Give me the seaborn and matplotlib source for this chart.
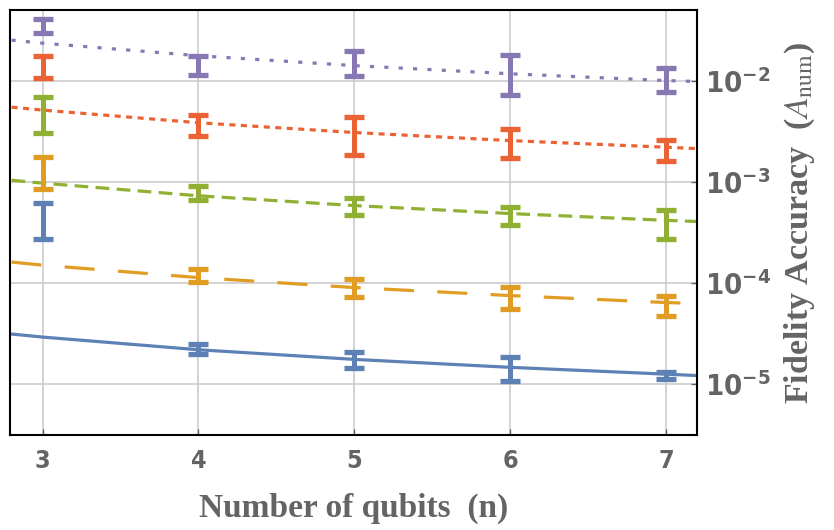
import numpy as np
import pandas as pd
import matplotlib
matplotlib.use("Agg")
import matplotlib.pyplot as plt
from matplotlib.ticker import FixedLocator, FuncFormatter, NullLocator
import seaborn as sns

# qubit counts with measured error bars
qubits = [3, 4, 5, 6, 7]

# error bar extents (lower, upper)
blue_lo = [2.70e-4, 1.96e-5, 1.43e-5, 1.08e-5, 1.13e-5]
blue_hi = [6.13e-4, 2.46e-5, 2.05e-5, 1.83e-5, 1.30e-5]
orange_lo = [8.43e-4, 1.011e-4, 7.19e-5, 5.46e-5, 4.67e-5]
orange_hi = [1.78e-3, 1.36e-4, 1.082e-4, 9.22e-5, 7.51e-5]
green_lo = [3.09e-3, 6.57e-4, 4.67e-4, 3.72e-4, 2.70e-4]
green_hi = [7.01e-3, 9.22e-4, 7.01e-4, 5.71e-4, 5.33e-4]
red_lo = [1.08e-2, 2.83e-3, 1.87e-3, 1.71e-3, 1.63e-3]
red_hi = [1.78e-2, 4.65e-3, 4.45e-3, 3.38e-3, 2.63e-3]
purple_lo = [3.02e-2, 1.134e-2, 1.109e-2, 7.19e-3, 7.87e-3]
purple_hi = [4.16e-2, 1.78e-2, 2.00e-2, 1.828e-2, 1.358e-2]

# fitted curves, read at a few n values
fit_n = [2.8, 3, 4, 5, 6, 7, 7.2]
blue_fit = [3.12e-5, 2.91e-5, 2.18e-5, 1.75e-5, 1.46e-5, 1.25e-5, 1.21e-5]
orange_fit = [1.61e-4, 1.50e-4, 1.13e-4, 9.0e-5, 7.5e-5, 6.4e-5, 6.26e-5]
green_fit = [1.04e-3, 9.74e-4, 7.30e-4, 5.84e-4, 4.87e-4, 4.17e-4, 4.06e-4]
red_fit = [5.51e-3, 5.15e-3, 3.86e-3, 3.09e-3, 2.57e-3, 2.21e-3, 2.14e-3]
purple_fit = [2.54e-2, 2.37e-2, 1.78e-2, 1.42e-2, 1.18e-2, 1.01e-2, 0.99e-2]

y_ticks = [1e-5, 1e-4, 1e-3, 1e-2]

sns.set_theme(style="white")
plt.rcParams["mathtext.fontset"] = "custom"
plt.rcParams["mathtext.rm"] = "DejaVu Sans:weight=bold:stretch=condensed"
plt.rcParams["mathtext.bf"] = "DejaVu Sans:weight=bold:stretch=condensed"
plt.rcParams["mathtext.it"] = "DejaVu Sans:weight=bold:style=italic:stretch=condensed"

gray = "#646464"
series = [
    ("#5E81B5", blue_lo, blue_hi, blue_fit, "-"),
    ("#E19C24", orange_lo, orange_hi, orange_fit, (0, (9.4, 7.3))),
    ("#8FB032", green_lo, green_hi, green_fit, (0, (4.3, 2.3))),
    ("#EB6235", red_lo, red_hi, red_fit, (0, (1.9, 1.7))),
    ("#8778B3", purple_lo, purple_hi, purple_fit, (0, (1.3, 3.2))),
]

fig = plt.figure(figsize=(8.34, 5.3), dpi=100)
ax = fig.add_axes([10 / 834, 1 - 435 / 530, 687 / 834, 425 / 530])

for color, lo, hi, fit, ls in series:
    sns.lineplot(x=fit_n, y=fit, color=color, lw=2.3, linestyle=ls, ax=ax, zorder=2)
    lo = np.array(lo)
    hi = np.array(hi)
    mid = np.sqrt(lo * hi)
    ax.errorbar(qubits, mid, yerr=[mid - lo, hi - mid], fmt="none", ecolor=color,
                elinewidth=3.6, capsize=7, capthick=3.8, zorder=3)

ax.set_yscale("log")
ax.set_xlim(2.79, 7.2)
ax.set_ylim(3.12e-6, 5.05e-2)

ax.xaxis.set_major_locator(FixedLocator(qubits))
ax.yaxis.set_major_locator(FixedLocator(y_ticks))
ax.yaxis.set_minor_locator(NullLocator())
ax.yaxis.set_major_formatter(FuncFormatter(lambda v, p: r"$\mathbf{10^{%d}}$" % round(np.log10(v))))
ax.yaxis.tick_right()
ax.yaxis.set_label_position("right")

ax.grid(True, color="#c8c8c8", lw=1.1)
ax.set_axisbelow(True)
for s in ax.spines.values():
    s.set_color("black")
    s.set_linewidth(1.5)

ax.tick_params(axis="x", direction="in", length=4, width=1, color=gray, pad=10,
               labelsize=18, labelcolor=gray, bottom=True)
ax.tick_params(axis="y", direction="in", length=4.5, width=1, color=gray, pad=6,
               labelsize=21, labelcolor=gray, right=True, left=False)
for lab in ax.get_xticklabels():
    lab.set_fontfamily("DejaVu Sans")
    lab.set_fontstretch("condensed")
    lab.set_fontweight("bold")

ax.set_xlabel("Number of qubits  (n)", fontsize=24, fontweight="bold", color=gray,
              family="Liberation Serif", labelpad=14)
ax.set_ylabel(r"Fidelity Accuracy  ($\mathit{A}_{\mathrm{num}}$)", fontsize=24.5,
              fontweight="bold", color=gray, family="Liberation Serif", labelpad=8,
              math_fontfamily="stix")

fig.savefig("out.png", dpi=100)
